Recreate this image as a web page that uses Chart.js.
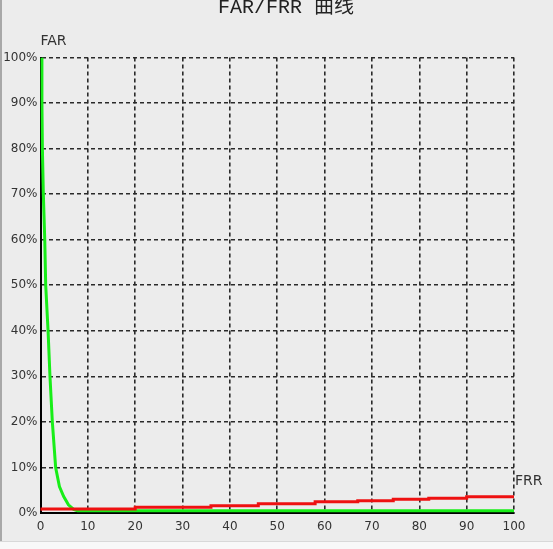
<!DOCTYPE html>
<html>
<head>
<meta charset="utf-8">
<script src="https://cdn.jsdelivr.net/npm/chart.js@4/dist/chart.umd.min.js"></script>
<style>
  html, body { margin: 0; padding: 0; background: #ececec; }
  #wrap { width: 553px; height: 549px; }
</style>
</head>
<body>
<div id="wrap"><canvas id="farChart" width="553" height="549"></canvas></div>
<script>
// FAR curve (green)
const farX = [0.25, 0.3, 0.4, 0.6, 0.9, 1.1, 1.6, 2.0, 2.5, 3.2, 4.0, 4.9, 5.9, 7.0, 7.8, 100];
const farY = [100, 90, 80, 70, 60, 50, 40, 30, 20, 10, 5.8, 3.6, 1.8, 0.8, 0.5, 0.5];

// FRR curve (red), stepped
const frrX = [0, 20, 36, 46, 58, 67, 74.5, 82, 90, 96, 100];
const frrY = [0.48, 0.88, 1.25, 1.6, 2.04, 2.48, 2.7, 3.0, 3.23, 3.58, 3.58];

const xTicks = [0, 10, 20, 30, 40, 50, 60, 70, 80, 90, 100];
const yTicks = [0, 10, 20, 30, 40, 50, 60, 70, 80, 90, 100];

const titleText = 'FAR/FRR 曲线';
const farLabel = 'FAR';
const frrLabel = 'FRR';

const toPoints = (xs, ys) => xs.map((x, i) => ({ x: x, y: ys[i] }));

// background, frame and the free text labels
const decor = {
  id: 'decor',
  beforeDraw(chart) {
    const ctx = chart.ctx;
    ctx.save();
    ctx.fillStyle = '#ececec';
    ctx.fillRect(0, 0, chart.width, chart.height);
    ctx.fillStyle = '#a8a8a8';
    ctx.fillRect(0, 0, 2, 542);
    ctx.fillStyle = '#f8f8f8';
    ctx.fillRect(0, 542, chart.width, chart.height - 542);
    ctx.fillStyle = '#d8d8d8';
    ctx.fillRect(0, 541, chart.width, 1);
    ctx.restore();
  },
  afterDraw(chart) {
    const ctx = chart.ctx;
    const area = chart.chartArea;
    ctx.save();
    ctx.fillStyle = '#222';
    ctx.font = '20px "Liberation Mono", "Noto Sans CJK SC", monospace';
    ctx.textAlign = 'center';
    ctx.textBaseline = 'middle';
    ctx.fillText(titleText, 286, 8);

    ctx.fillStyle = '#333';
    ctx.font = '14px "DejaVu Sans", sans-serif';
    ctx.textAlign = 'left';
    ctx.fillText(farLabel, area.left, 41);
    ctx.fillText(frrLabel, area.right + 1, 481);
    ctx.restore();
  }
};

const ctx = document.getElementById('farChart').getContext('2d');

new Chart(ctx, {
  type: 'line',
  data: {
    datasets: [
      {
        label: 'FRR',
        data: toPoints(frrX, frrY),
        borderColor: '#ee1111',
        borderWidth: 3,
        stepped: 'after',
        pointRadius: 0,
        fill: false,
        order: 0,
      },
      {
        label: 'FAR',
        data: toPoints(farX, farY),
        borderColor: '#18ee18',
        borderWidth: 3,
        tension: 0,
        pointRadius: 0,
        fill: false,
        order: 1,
      },
    ],
  },
  options: {
    responsive: false,
    animation: false,
    events: [],
    layout: {
      padding: { top: 57.5, right: 39, bottom: 0, left: 0 },
    },
    plugins: {
      legend: { display: false },
      title: { display: false },
      tooltip: { enabled: false },
    },
    scales: {
      x: {
        type: 'linear',
        min: 0,
        max: 100,
        afterFit: (scale) => { scale.height = 36; },
        afterBuildTicks: (scale) => { scale.ticks = xTicks.map((v) => ({ value: v })); },
        grid: {
          color: '#2a2a2a',
          lineWidth: 1.6,
          drawTicks: false,
        },
        border: {
          color: '#000',
          width: 2,
          dash: [4, 3],
        },
        ticks: {
          padding: 7,
          color: '#333',
          font: { family: '"DejaVu Sans", sans-serif', size: 12 },
          maxRotation: 0,
          autoSkip: false,
        },
      },
      y: {
        type: 'linear',
        min: 0,
        max: 100,
        afterFit: (scale) => { scale.width = 40.5; },
        afterBuildTicks: (scale) => { scale.ticks = yTicks.map((v) => ({ value: v })); },
        grid: {
          color: '#2a2a2a',
          lineWidth: 1.6,
          drawTicks: false,
        },
        border: {
          color: '#000',
          width: 2,
          dash: [4, 3],
        },
        ticks: {
          padding: 3,
          color: '#333',
          font: { family: '"DejaVu Sans", sans-serif', size: 12 },
          callback: (v) => v + '%',
        },
      },
    },
  },
  plugins: [decor],
});
</script>
</body>
</html>
